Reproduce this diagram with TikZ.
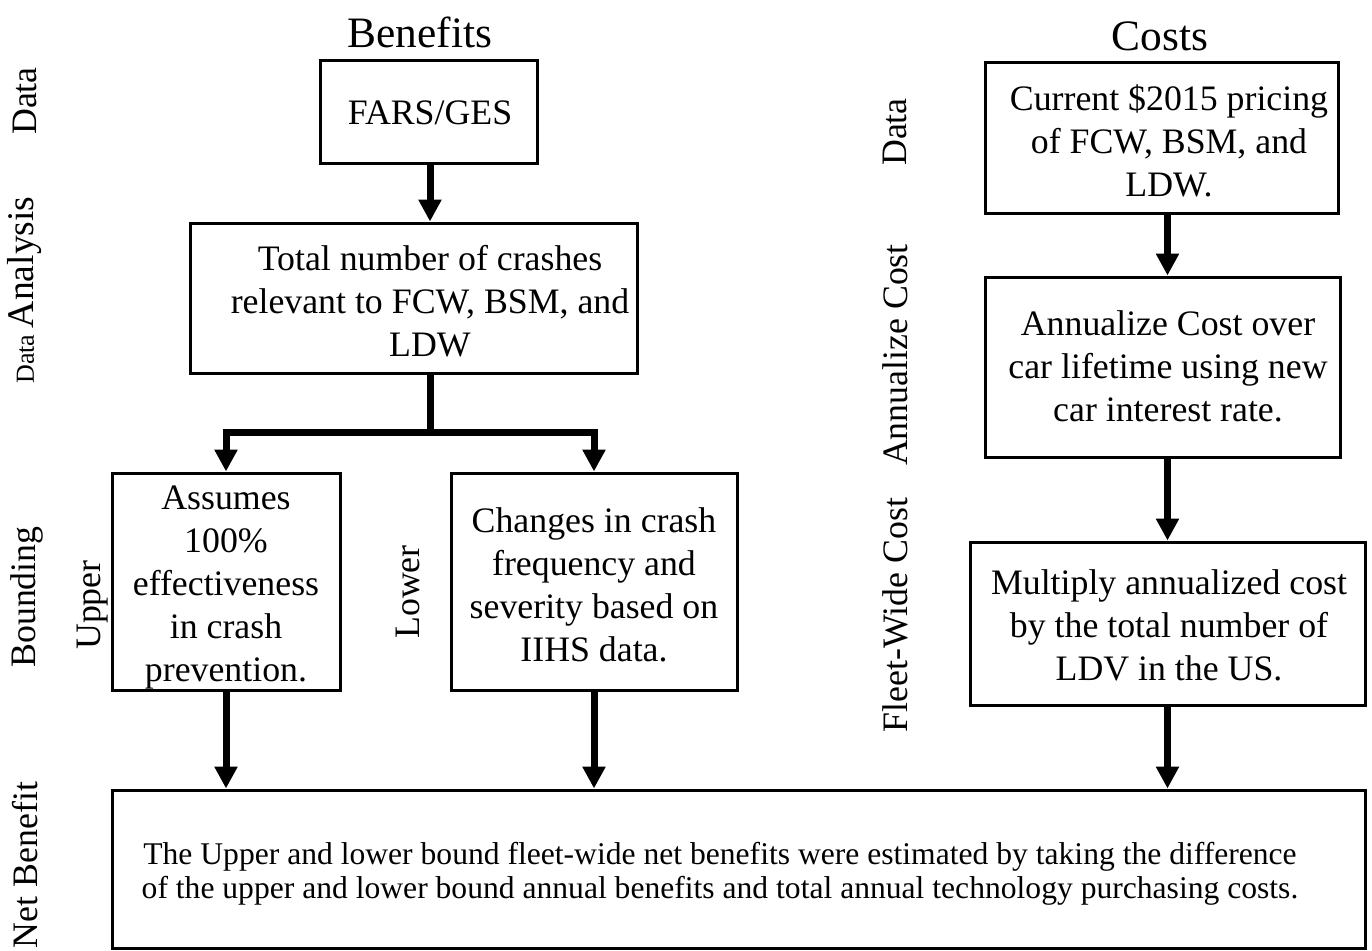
\documentclass[tikz,border=0pt]{standalone}
\usepackage{fontspec}
\setmainfont{Liberation Serif}
\usetikzlibrary{arrows.meta}
\begin{document}
\begin{tikzpicture}[x=0.5pt,y=-0.5pt,
  body/.style={font=\fontsize{17.9}{21.5}\selectfont},
  boxnode/.style={draw,line width=1.5pt,inner sep=0pt,anchor=center},
  txt/.style={body,align=center,inner sep=0pt},
  lab/.style={body,rotate=90,inner sep=0pt},
  title/.style={font=\fontsize{21.7}{24}\selectfont,inner sep=0pt},
  arr/.style={line width=3.5pt,-{Triangle[length=11pt,width=11pt]}},
  link/.style={line width=3.5pt}]
\useasboundingbox (0,0) rectangle (1372,950);

% titles
\node[title] (tben) at (420,32) {Benefits};
\node[title] (tcost) at (1160,36) {Costs};

% left side labels
\node[lab] (ldata) at (25,101) {Data};
\node[rotate=90,inner sep=0pt] (lanal) at (25,290) {\fontsize{13}{15}\selectfont Data \fontsize{18.8}{22}\selectfont Analysis};
\node[lab] (lbound) at (27,597) {Bounding};
\node[lab] (lnet) at (25,865) {Net Benefit};
\node[lab] (lupper) at (93,605) {Upper};
\node[lab] (llower) at (408,592) {Lower};

% right side labels
\node[lab] (rdata) at (895,132) {Data};
\node[lab] (rannual) at (895,355) {Annualize Cost};
\node[lab] (rfleet) at (895,615) {Fleet-Wide Cost};

% benefit boxes
\node[boxnode,minimum width=108.5pt,minimum height=51.5pt] (fars) at (428.5,111.5) {};
\node[txt] (farst) at (430,113) {FARS/GES};
\node[boxnode,minimum width=223.5pt,minimum height=75pt] (total) at (413.5,298) {};
\node[txt] (totalt) at (430,301) {Total number of crashes\\relevant to FCW, BSM, and\\LDW};
\node[boxnode,minimum width=114pt,minimum height=108.5pt] (upper) at (226,581.5) {};
\node[txt] (uppert) at (226,587) {Assumes\\100\%\\effectiveness\\in crash\\prevention.};
\node[boxnode,minimum width=143pt,minimum height=108.5pt] (lower) at (594,581.5) {};
\node[txt] (lowert) at (594,585) {Changes in crash\\frequency and\\severity based on\\IIHS data.};

% cost boxes
\node[boxnode,minimum width=176.5pt,minimum height=75.5pt] (cdata) at (1161.5,137.5) {};
\node[txt] (cdatat) at (1169,140.5) {Current \$2015 pricing\\of FCW, BSM, and\\LDW.};
\node[boxnode,minimum width=177.5pt,minimum height=90pt] (annual) at (1162.5,367) {};
\node[txt] (annualt) at (1168,366.5) {Annualize Cost over\\car lifetime using new\\car interest rate.};
\node[boxnode,minimum width=197.5pt,minimum height=81.5pt] (mult) at (1167.5,623.5) {};
\node[txt] (multt) at (1169,625.5) {Multiply annualized cost\\by the total number of\\LDV in the US.};

% net benefit
\node[boxnode,minimum width=626.5pt,minimum height=79pt] (net) at (738.5,869) {};
\node[align=center,inner sep=0pt,font=\fontsize{15.8}{17}\selectfont] (nett) at (720,874) {The Upper and lower bound fleet-wide net benefits were estimated by taking the difference\\of the upper and lower bound annual benefits and total annual technology purchasing costs.};

% connectors
\coordinate (split) at (430,432);
\draw[arr] (farst |- fars.south) -- (farst |- total.north);
\draw[link] (split |- total.south) -- (split);
\draw[line width=3.5pt,{Triangle[length=11pt,width=11pt]}-{Triangle[length=11pt,width=11pt]}] (upper.north) |- (split) -| (lower.north);
\draw[arr] (upper.south) -- (upper.south |- net.north);
\draw[arr] (lower.south) -- (lower.south |- net.north);
\draw[arr] (mult |- cdata.south) -- (mult |- annual.north);
\draw[arr] (mult |- annual.south) -- (mult.north);
\draw[arr] (mult.south) -- (mult.south |- net.north);
\end{tikzpicture}
\end{document}
